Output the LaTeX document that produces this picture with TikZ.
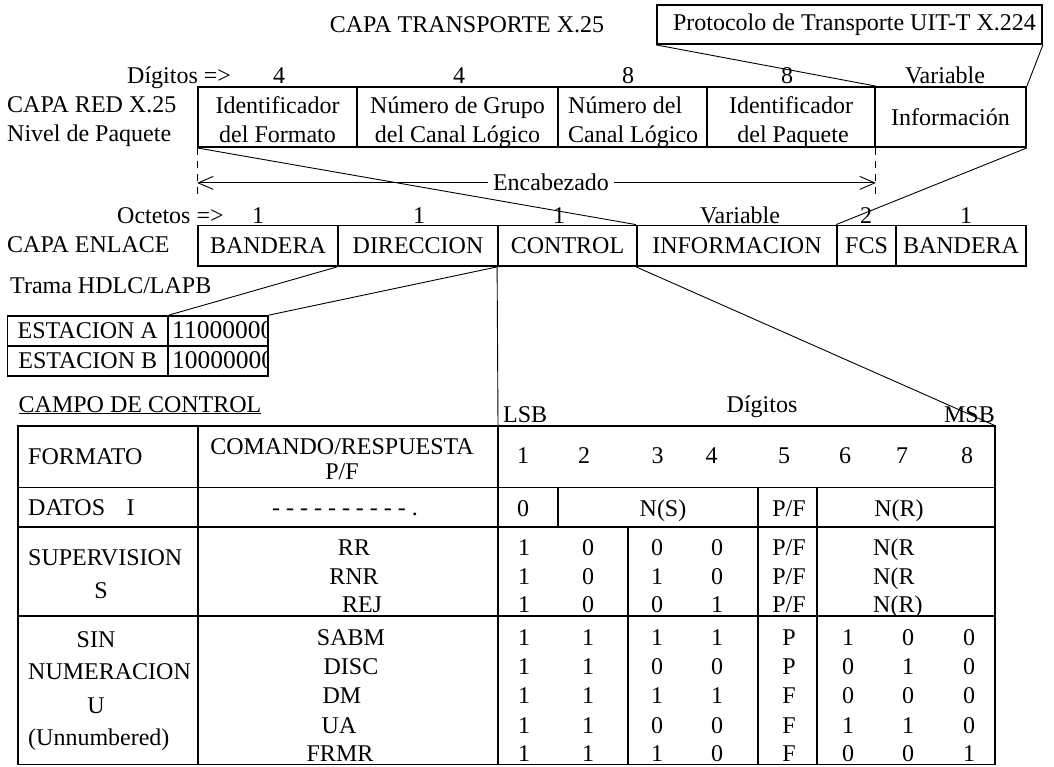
\documentclass[tikz,border=0pt]{standalone}
\usepackage{fontspec}
\setmainfont{Liberation Serif}
\usetikzlibrary{arrows.meta,positioning,calc}

\tikzset{
  fld/.style={draw,line width=1.8pt,inner sep=0pt,minimum height=#1},
  fld/.default=40.5pt,
  lbl/.style={inner sep=0pt,anchor=base},
  lblw/.style={inner sep=0pt,anchor=base west},
  link/.style={line width=0.9pt},
  grid/.style={line width=1.8pt},
  bigdig/.style={font=\fontsize{25.5}{29}\selectfont},
  dimarrow/.style={line width=0.9pt,
    {Straight Barb[length=15pt,width=13pt]}-{Straight Barb[length=15pt,width=13pt]}},
}

\begin{document}
\begin{tikzpicture}[x=1pt,y=-1pt,font=\fontsize{24}{29}\selectfont]
  % page in pixel units, origin top left
  \useasboundingbox (0,0) rectangle (1054,766);
  \def\pkt{117}      % packet row centre
  \def\frm{245.75}   % frame row centre
  \def\la{113}       % first text line of packet fields
  \def\lb{142}       % second text line of packet fields
  % --- Transport layer ---
  \node[lbl] (tl) at (467,32) {CAPA TRANSPORTE X.25};
  \node[fld=39pt,minimum width=385pt] (x224) at (849.5,24.5)
    {\hspace{10pt}Protocolo de Transporte UIT-T X.224};
  % --- Packet layer X.25 ---
  \node[lblw] (dig) at (127,83) {Dígitos =>};
  \foreach \x/\t [count=\i] in {279/4,459/4,628/8,787/8,945/Variable}
    \node[lbl] (pd\i) at (\x,83) {\t};
  \node[lblw] (red) at (7,112.5) {CAPA RED X.25};
  \node[lblw] (niv) at (7,141) {Nivel de Paquete};
  \node[fld=60pt,minimum width=159pt] (idf) at (277.5,\pkt) {};
  \node[fld=60pt,minimum width=201pt] (ngc) at (457.5,\pkt) {};
  \node[fld=60pt,minimum width=149pt] (ncl) at (632.5,\pkt) {};
  \node[fld=60pt,minimum width=168pt] (idp) at (791,\pkt) {};
  \node[fld=60pt,minimum width=151pt] (inf) at (950.5,\pkt) {Información};
  \node[lbl] (idf-a) at (277.5,\la) {Identificador};
  \node[lbl] (idf-b) at (277.5,\lb) {del Formato};
  \node[lbl] (ngc-a) at (457.5,\la) {Número de Grupo};
  \node[lbl] (ngc-b) at (457.5,\lb) {del Canal Lógico};
  \node[lblw] (ncl-a) at (568,\la) {Número del};
  \node[lblw] (ncl-b) at (568,\lb) {Canal Lógico};
  \node[lbl] (idp-a) at (791,\la) {Identificador};
  \node[lbl] (idp-b) at (793,\lb) {del Paquete};
  % header span
  \coordinate (encL) at ($(idf.south west)+(0,35)$);
  \coordinate (encR) at ($(idp.south east)+(0,35)$);
  \coordinate (cutL) at ($(idf.south west)+(0,49)$);
  \coordinate (cutR) at ($(idp.south east)+(0,49)$);
  \draw[link,dash pattern=on 7pt off 6pt] (idf.south west) -- (cutL);
  \draw[link,dash pattern=on 7pt off 6pt] (idp.south east) -- (cutR);
  \draw[dimarrow] (encL) -- (encR);
  \node[fill=white,inner xsep=5pt,inner ysep=1pt] (enc) at (551,182) {Encabezado};
  % --- Link layer ---
  \node[lblw] (oct) at (117,223) {Octetos =>};
  \foreach \x/\t [count=\i] in {258/1,419/1,559/1,740/Variable,866/2,966/1}
    \node[lbl] (fo\i) at (\x,223) {\t};
  \node[lblw] (enl) at (7,252.5) {CAPA ENLACE};
  \node[lblw] (hdlc) at (10,293) {Trama HDLC/LAPB};
  \node[fld,minimum width=140pt] (fb1) at (268,\frm) {BANDERA};
  \node[fld,minimum width=160pt] (fdir) at (418,\frm) {DIRECCION};
  \node[fld,minimum width=139pt] (fctl) at (567.5,\frm) {CONTROL};
  \node[fld,minimum width=200pt] (finf) at (737,\frm) {INFORMACION};
  \node[fld,minimum width=59pt] (ffcs) at (866.5,\frm) {FCS};
  \node[fld,minimum width=130pt] (fb2) at (961,\frm) {BANDERA};
  % address values (digits clipped at the cell edge)
  \node[fld=30pt,minimum width=160.5pt] (sta) at (87.75,331) {ESTACION A};
  \node[fld=30pt,minimum width=100pt] (stav) at (218,331) {};
  \node[fld=30pt,minimum width=160.5pt] (stb) at (87.75,361) {ESTACION B};
  \node[fld=30pt,minimum width=100pt] (stbv) at (218,361) {};
  \begin{scope}
    \clip (stav.north west) rectangle (stbv.south east);
    \node[lblw,bigdig] (stav-t) at (172,338) {11000000};
    \node[lblw,bigdig] (stbv-t) at (172,368) {10000000};
  \end{scope}
  % --- Control field table ---
  \coordinate (tnw) at (17.6,425.6);
  \coordinate (tc) at (498,425.6);
  \coordinate (tne) at (995,425.6);
  \coordinate (tse) at (995,764.5);
  \draw[grid] (tnw) rectangle (tse);
  \foreach \x in {197.6,498}
    \draw[grid] (\x,425.6) -- (\x,764.5);
  \foreach \y in {487.5,527,616}
    \draw[grid] (17.6,\y) -- (995,\y);
  \foreach \x in {558,758,817}
    \draw[grid] (\x,487.5) -- (\x,527);
  \foreach \x in {628,758,817}
    \draw[grid] (\x,527) -- (\x,764.5);
  \node[lblw] (campo) at (18.5,412) {\underline{CAMPO DE CONTROL}};
  \node[lbl] (digt) at (762,412) {Dígitos};
  \node[lblw] (lsb) at (503,422) {LSB};
  \node[lbl,anchor=base east] (msb) at (995,422) {MSB};
  % header row
  \node[lblw] (fmt) at (28,464) {FORMATO};
  \node[lbl] (cmd) at (342,454) {COMANDO/RESPUESTA};
  \node[lbl] (cmdpf) at (342,479) {P/F};
  \foreach \x [count=\i] in {523,584,657.5,711.5,784,845,902,967}
    \node[lbl] (hd\i) at (\x,463) {\i};
  % I frames
  \node[lblw] (datos) at (28,515) {DATOS\hspace{0.9em}I};
  \node[lbl] (dash) at (345,515) {- - - - - - - - - - .};
  \node[lbl] (d1) at (523,516) {0};
  \node[lbl] (ns) at (663,516) {N(S)};
  \node[lbl] (dpf) at (789,516) {P/F};
  \node[lbl] (nr) at (899,516) {N(R)};
  % S frames
  \node[lblw] (sup) at (28,565) {SUPERVISION};
  \node[lbl] (sups) at (101,598) {S};
  \node[lbl] (rr) at (354,555) {RR};
  \foreach \x/\v [count=\i] in {524/1,588/0,657/0,717/0}
    \node[lbl] (rr\i) at (\x,555) {\v};
  \node[lbl] (rr5) at (789,555) {P/F};
  \node[lblw] (rr6) at (873,555) {N(R};
  \node[lbl] (rnr) at (354,584) {RNR};
  \foreach \x/\v [count=\i] in {524/1,588/0,657/1,717/0}
    \node[lbl] (rnr\i) at (\x,584) {\v};
  \node[lbl] (rnr5) at (789,584) {P/F};
  \node[lblw] (rnr6) at (873,584) {N(R};
  \node[lbl] (rej) at (362,612) {REJ};
  \foreach \x/\v [count=\i] in {524/1,588/0,657/0,717/1}
    \node[lbl] (rej\i) at (\x,612) {\v};
  \node[lbl] (rej5) at (789,612) {P/F};
  \node[lblw] (rej6) at (873,612) {N(R)};
  % U frames
  \node[lbl] (sin) at (96,647) {SIN};
  \node[lblw] (num) at (28,679) {NUMERACION};
  \node[lbl] (uu) at (96,713) {U};
  \node[lblw] (unn) at (28,745) {(Unnumbered)};
  \node[lbl] (sabm) at (351,645) {SABM};
  \foreach \x/\v [count=\i] in {524/1,588/1,657/1,717/1,789/P,848/1,908/0,969/0}
    \node[lbl] (sabm\i) at (\x,645) {\v};
  \node[lbl] (disc) at (351,674) {DISC};
  \foreach \x/\v [count=\i] in {524/1,588/1,657/0,717/0,789/P,848/0,908/1,969/0}
    \node[lbl] (disc\i) at (\x,674) {\v};
  \node[lbl] (dm) at (342,703.5) {DM};
  \foreach \x/\v [count=\i] in {524/1,588/1,657/1,717/1,789/F,848/0,908/0,969/0}
    \node[lbl] (dm\i) at (\x,703.5) {\v};
  \node[lbl] (ua) at (339,733) {UA};
  \foreach \x/\v [count=\i] in {524/1,588/1,657/0,717/0,789/F,848/1,908/1,969/0}
    \node[lbl] (ua\i) at (\x,733) {\v};
  \node[lbl] (frmr) at (340,761.5) {FRMR};
  \foreach \x/\v [count=\i] in {524/1,588/1,657/1,717/0,789/F,848/0,908/0,969/1}
    \node[lbl] (frmr\i) at (\x,761.5) {\v};
  % --- Zoom lines between layers ---
  \draw[link] (x224.south west) -- (idp.north east);
  \draw[link] (x224.south east) -- (inf.north east);
  \draw[link] (idf.south west) -- (finf.north west);
  \draw[link] (ffcs.north west) -- (inf.south east);
  \draw[link] (fdir.south west) -- (sta.north east);
  \draw[link] (fctl.south west) -- (stav.north east);
  \draw[link] (fctl.south west) -- (tc);
  \draw[link] (finf.south west) -- (tne);
\end{tikzpicture}
\end{document}
